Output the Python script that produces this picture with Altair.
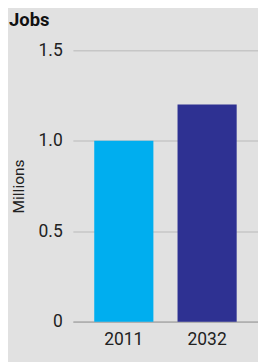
import altair as alt
import pandas as pd

years = ["2011", "2032"]
jobs_millions = [1.0, 1.2]
bar_colors = ["#00aeef", "#2e3192"]
y_ticks = [0, 0.5, 1.0, 1.5]

df = pd.DataFrame({"year": years, "jobs": jobs_millions})

FONT = "Roboto"

chart = (
    alt.Chart(df)
    .mark_bar()
    .encode(
        x=alt.X(
            "year:N",
            title=None,
            sort=years,
            scale=alt.Scale(paddingInner=0.29, paddingOuter=0.256),
            axis=alt.Axis(
                labelAngle=0,
                ticks=False,
                domain=True,
                domainColor="#b0b0b0",
                domainWidth=2,
                labelFont=FONT,
                labelFontSize=18,
                labelColor="#222222",
                labelPadding=10,
            ),
        ),
        y=alt.Y(
            "jobs:Q",
            title="Millions",
            scale=alt.Scale(domain=[0, 1.5], nice=False),
            axis=alt.Axis(
                values=y_ticks,
                labelExpr="datum.value == 0 ? '0' : format(datum.value, '.1f')",
                domain=False,
                ticks=False,
                grid=True,
                gridColor="#c6c6c6",
                gridWidth=1.5,
                labelFont=FONT,
                labelFontSize=18,
                labelColor="#222222",
                labelPadding=11,
                titleFont=FONT,
                titleFontSize=16,
                titleFontWeight="normal",
                titleColor="#222222",
                titlePadding=12,
            ),
        ),
        color=alt.Color(
            "year:N",
            scale=alt.Scale(domain=years, range=bar_colors),
            legend=None,
        ),
    )
    .properties(
        width=191,
        height=280,
        background="#e1e1e1",
        padding={"left": 67, "top": 38, "right": 0, "bottom": 36},
        autosize=alt.AutoSizeParams(type="none"),
        title=alt.TitleParams(
            "Jobs",
            anchor="start",
            frame="group",
            font=FONT,
            fontSize=19,
            fontWeight="bold",
            color="#111111",
            dx=-66,
            offset=12,
        ),
    )
    .configure_view(stroke=None)
)

chart.save("out.html", embed_options={"renderer": "svg", "actions": False})
